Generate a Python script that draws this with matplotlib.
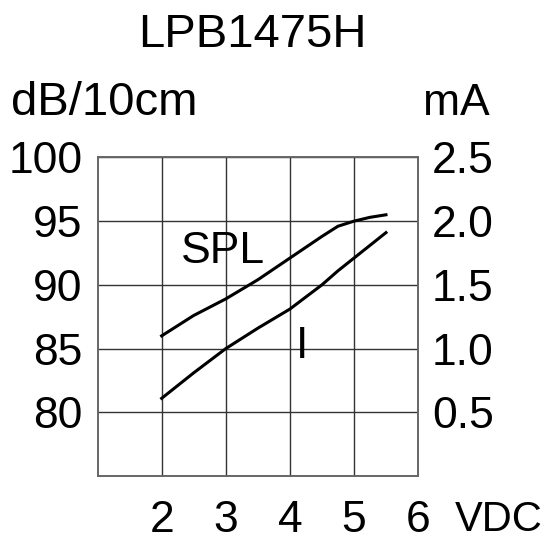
import matplotlib
matplotlib.use("Agg")
import matplotlib.pyplot as plt

plt.rcParams['font.family'] = ['Liberation Sans', 'DejaVu Sans']

# data
voltage = [2.0, 2.5, 3.0, 3.5, 4.0, 4.5, 4.75, 5.0, 5.25, 5.5]
spl_db = [86.0, 87.6, 88.9, 90.4, 92.1, 93.8, 94.6, 95.0, 95.3, 95.5]
current_ma = [0.61, 0.81, 1.0, 1.16, 1.31, 1.5, 1.61, 1.71, 1.81, 1.91]

x_ticks = [2, 3, 4, 5, 6]
left_ticks = [80, 85, 90, 95, 100]
right_ticks = [0.5, 1.0, 1.5, 2.0, 2.5]
right_labels = ["0.5", "1.0", "1.5", "2.0", "2.5"]

fs = 32

fig = plt.figure(figsize=(5.45, 5.41), dpi=100)
ax = fig.add_axes([0.179, 0.120, 0.588, 0.589])
ax2 = ax.twinx()

ax.plot(voltage, spl_db, color="black", lw=2.2)
ax2.plot(voltage, current_ma, color="black", lw=2.2)

ax.set_xlim(1, 6)
ax.set_ylim(75, 100)
ax2.set_ylim(0, 2.5)

ax.set_xticks(x_ticks)
ax.set_yticks(left_ticks)
ax2.set_yticks(right_ticks)
ax2.set_yticklabels(right_labels)

ax.grid(True, color="#333333", lw=1.0)
ax.set_axisbelow(True)
for a in (ax, ax2):
    for s in a.spines.values():
        s.set_color("#666666")
        s.set_linewidth(1.2)

ax.tick_params(axis="x", length=0, pad=17, labelsize=fs)
ax.tick_params(axis="y", length=0, pad=11, labelsize=fs)
ax2.tick_params(axis="y", length=0, pad=10, labelsize=fs)

ax.text(2.95, 92.6, "SPL", fontsize=fs, ha="center", va="center")
ax.text(4.19, 85.2, "I", fontsize=fs, ha="center", va="center")

fig.text(0.463, 0.9137, "LPB1475H", fontsize=34, ha="center", va="baseline")
fig.text(0.021, 0.787, "dB/10cm", fontsize=34, ha="left", va="baseline")
fig.text(0.838, 0.787, "mA", fontsize=fs, ha="center", va="baseline")
fig.text(0.995, 0.018, "VDC", fontsize=30, ha="right", va="baseline")

fig.savefig("out.png", dpi=100, facecolor="white")
